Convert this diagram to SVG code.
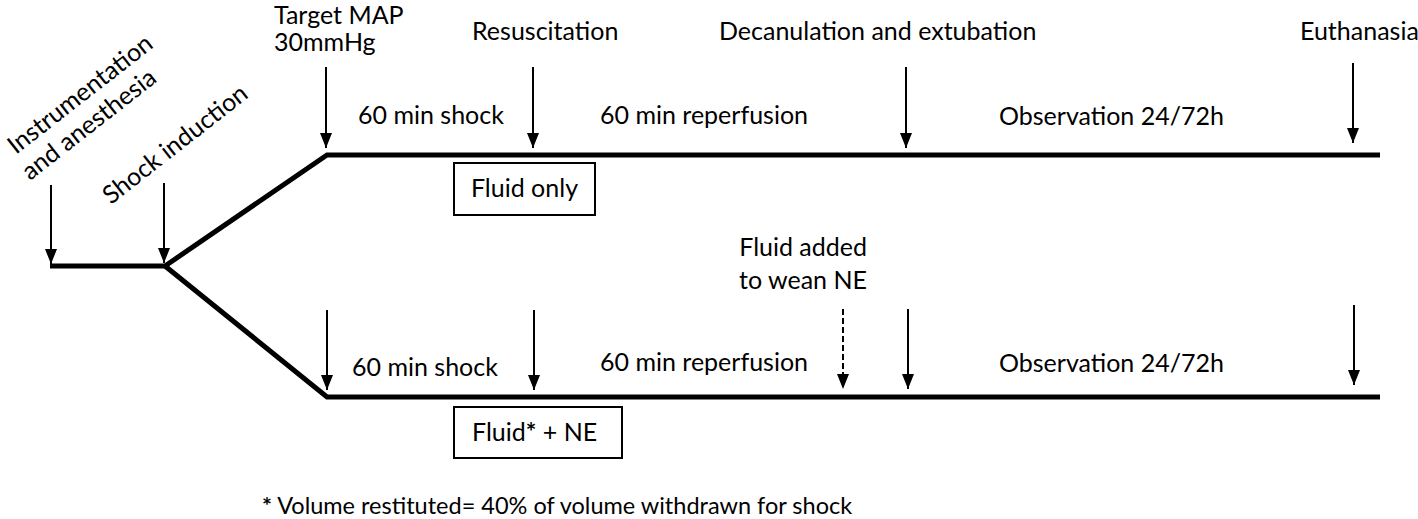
<svg xmlns="http://www.w3.org/2000/svg" width="1418" height="519" viewBox="0 0 1418 519">
<defs>
<style>
text{font-family:Lato,"Open Sans","Liberation Sans",sans-serif;font-size:25px;fill:#000}
.small{font-size:23.5px}
.line{stroke:#000;stroke-width:5;fill:none;stroke-linejoin:miter}
.arr{stroke:#000;stroke-width:2;fill:none}
.dash{stroke:#000;stroke-width:2;fill:none;stroke-dasharray:6,3}
.box{fill:#fff;stroke:#000;stroke-width:2}
</style>
<marker id="ah" viewBox="0 0 15 12" refX="15" refY="6" markerWidth="15" markerHeight="12" markerUnits="userSpaceOnUse" orient="auto">
<path d="M0,0 L15,6 L0,12 Z" fill="#000"/>
</marker>
</defs>
<rect width="1418" height="519" fill="#fff"/>
<g id="timeline">
<polyline class="line" points="50,266 165,266 327,155 1380,155"/>
<polyline class="line" points="165,266 327,397 1380,397"/>
</g>
<g id="connectors">
<line class="arr" x1="51" y1="185" x2="51" y2="264" marker-end="url(#ah)"/>
<line class="arr" x1="164" y1="183" x2="164" y2="263" marker-end="url(#ah)"/>
<line class="arr" x1="326" y1="67" x2="326" y2="148" marker-end="url(#ah)"/>
<line class="arr" x1="533" y1="67" x2="533" y2="148" marker-end="url(#ah)"/>
<line class="arr" x1="906" y1="67" x2="906" y2="148" marker-end="url(#ah)"/>
<line class="arr" x1="1353" y1="63" x2="1353" y2="143" marker-end="url(#ah)"/>
<line class="arr" x1="327" y1="310" x2="327" y2="390" marker-end="url(#ah)"/>
<line class="arr" x1="534" y1="310" x2="534" y2="390" marker-end="url(#ah)"/>
<line class="dash" x1="843" y1="309" x2="843" y2="389" marker-end="url(#ah)"/>
<line class="arr" x1="908" y1="309" x2="908" y2="389" marker-end="url(#ah)"/>
<line class="arr" x1="1354" y1="305" x2="1354" y2="385" marker-end="url(#ah)"/>
</g>
<g id="label-instrumentation">
<text transform="translate(16,155) rotate(-38)">Instrumentation</text>
<text transform="translate(30,181) rotate(-38)">and anesthesia</text>
</g>
<g id="label-shock-induction">
<text transform="translate(111,205) rotate(-38)">Shock induction</text>
</g>
<g id="label-target">
<text x="274" y="24">Target MAP</text>
<text x="274" y="51">30mmHg</text>
</g>
<g id="label-resuscitation"><text x="472" y="40">Resuscitation</text></g>
<g id="label-decanulation"><text x="719" y="40">Decanulation and extubation</text></g>
<g id="label-euthanasia"><text x="1300" y="40">Euthanasia</text></g>
<g id="upper-phases">
<text x="358" y="124">60 min shock</text>
<text x="600" y="124">60 min reperfusion</text>
<text x="999" y="125">Observation 24/72h</text>
</g>
<g id="box-fluid-only">
<rect class="box" x="454" y="163" width="141" height="52"/>
<text x="524.5" y="197" text-anchor="middle">Fluid only</text>
</g>
<g id="label-fluid-added">
<text x="867" y="256" text-anchor="end">Fluid added</text>
<text x="867" y="289" text-anchor="end">to wean NE</text>
</g>
<g id="lower-phases">
<text x="352" y="376">60 min shock</text>
<text x="600" y="371">60 min reperfusion</text>
<text x="999" y="372">Observation 24/72h</text>
</g>
<g id="box-fluid-ne">
<rect class="box" x="454" y="407" width="168" height="51"/>
<text x="472" y="441">Fluid<tspan font-weight="bold">*</tspan> + NE</text>
</g>
<g id="footnote">
<text class="small" x="262" y="514"><tspan font-weight="bold">*</tspan> Volume restituted= 40% of volume withdrawn for shock</text>
</g>
</svg>
